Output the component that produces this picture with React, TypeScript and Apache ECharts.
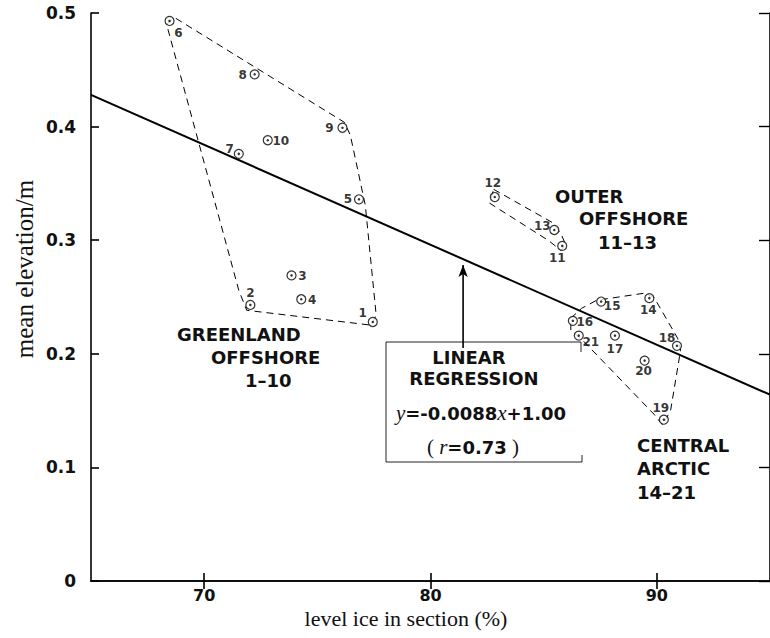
import React, { useEffect, useRef } from "react";
import * as echarts from "echarts";

// Survey stations: level ice fraction (%) vs mean ice elevation (m)
const stationIds = [1, 2, 3, 4, 5, 6, 7, 8, 9, 10, 11, 12, 13, 14, 15, 16, 17, 18, 19, 20, 21];
const levelIce = [77.45, 72.04, 73.86, 74.29, 76.84, 68.47, 71.53, 72.23, 76.11, 72.81, 85.82, 82.84, 85.47, 89.67, 87.54, 86.29, 88.15, 90.89, 90.31, 89.46, 86.55];
const meanElevation = [0.228, 0.243, 0.269, 0.248, 0.336, 0.493, 0.376, 0.446, 0.399, 0.388, 0.295, 0.338, 0.309, 0.249, 0.246, 0.229, 0.216, 0.207, 0.142, 0.194, 0.216];

// Where each station number sits relative to its marker (px)
const labelOffsets: [number, number][] = [
  [-10, -9], [0, -12], [11, 1], [11, 1], [-11, 0], [9, 12], [-9, -5], [-12, 1], [-13, 0], [13, 1],
  [-5, 12], [-2, -14], [-12, -4], [-1, 12], [11, 4], [12, 1], [0, 13], [-10, -8], [-3, -12], [-1, 10], [12, 6],
];

// Dashed outlines around the three regional groups (data units)
const greenlandOutline: [number, number][] = [
  [68.34, 0.49], [68.69, 0.496], [76.2, 0.4037], [76.46, 0.3923], [77.12, 0.3307], [77.6, 0.234],
  [77.38, 0.2252], [71.88, 0.2383], [71.53, 0.2559], [68.34, 0.49],
];
const outerOffshoreOutline: [number, number][] = [
  [82.79, 0.3448], [85.37, 0.3157], [85.76, 0.3061], [85.98, 0.2955], [85.76, 0.2911], [85.2, 0.2999],
  [82.62, 0.3325], [82.79, 0.3448],
];
const centralArcticOutline: [number, number][] = [
  [86.2, 0.2313], [86.68, 0.2401], [87.34, 0.2471], [89.43, 0.2533], [89.87, 0.2498], [90.92, 0.2137],
  [91.05, 0.2032], [90.61, 0.1504], [90.26, 0.1372], [89.87, 0.1469], [86.72, 0.212], [86.2, 0.2208],
  [86.2, 0.2313],
];

// Fitted regression y = -0.0088x + 1.00
const SLOPE = -0.0088;
const INTERCEPT = 1.0;
const X_RANGE = [65, 95];
const xTicks = [70, 80, 90];
const arrowX = 81.44;

const SANS = "DejaVu Sans";
const SERIF = "Liberation Serif";

export default function App() {
  const ref = useRef<HTMLDivElement>(null);

  useEffect(() => {
    if (!ref.current) return;
    const chart = echarts.init(ref.current, null, { renderer: "svg" });

    const points = stationIds.map((id, i) => ({
      value: [levelIce[i], meanElevation[i]],
      name: String(id),
      label: { offset: labelOffsets[i] },
    }));

    const fit = (x: number) => SLOPE * x + INTERCEPT;

    const dashed = (data: [number, number][]) => ({
      type: "line",
      data,
      symbol: "none",
      silent: true,
      lineStyle: { color: "#000", width: 1, type: [7, 5] },
      z: 2,
    });

    const boxLine = (x1: number, y1: number, x2: number, y2: number) => ({
      type: "line",
      shape: { x1, y1, x2, y2 },
      style: { stroke: "#222", lineWidth: 1 },
    });

    const boldText = (x: number, y: number, text: string, size: number, align = "left") => ({
      type: "text",
      x,
      y,
      style: {
        text,
        fill: "#111",
        font: `bold ${size}px "${SANS}"`,
        textAlign: align,
        textVerticalAlign: "middle",
      },
    });

    chart.setOption({
      animation: false,
      backgroundColor: "#fff",
      grid: { left: 91, top: 13, width: 687, height: 568 },
      xAxis: [
        {
          type: "value",
          min: X_RANGE[0],
          max: X_RANGE[1],
          axisLine: { lineStyle: { color: "#000", width: 1.6 } },
          axisTick: { inside: true, length: 8, customValues: xTicks, lineStyle: { color: "#000", width: 1.6 } },
          axisLabel: {
            customValues: xTicks,
            margin: 6,
            color: "#111",
            fontFamily: SANS,
            fontWeight: "bold",
            fontSize: 16,
            lineHeight: 16,
          },
          splitLine: { show: false },
        },
        {
          type: "value",
          position: "top",
          min: X_RANGE[0],
          max: X_RANGE[1],
          axisLine: { lineStyle: { color: "#000", width: 1.6 } },
          axisTick: { inside: true, length: 8, customValues: xTicks, lineStyle: { color: "#000", width: 1.6 } },
          axisLabel: { show: false },
          splitLine: { show: false },
        },
      ],
      yAxis: [
        {
          type: "value",
          min: 0,
          max: 0.5,
          interval: 0.1,
          axisLine: { lineStyle: { color: "#000", width: 1.6 } },
          axisTick: { inside: true, length: 8, lineStyle: { color: "#000", width: 1.6 } },
          axisLabel: {
            margin: 15,
            color: "#111",
            fontFamily: SANS,
            fontWeight: "bold",
            fontSize: 17,
            formatter: (v: number) => (v === 0 ? "0" : v.toFixed(1)),
          },
          splitLine: { show: false },
        },
        {
          type: "value",
          position: "right",
          min: 0,
          max: 0.5,
          interval: 0.1,
          axisLine: { lineStyle: { color: "#000", width: 1.6 } },
          axisTick: { inside: true, length: 11, lineStyle: { color: "#000", width: 1.4 } },
          axisLabel: { show: false },
          splitLine: { show: false },
        },
      ],
      series: [
        dashed(greenlandOutline),
        dashed(outerOffshoreOutline),
        dashed(centralArcticOutline),
        {
          type: "line",
          data: [
            [X_RANGE[0], fit(X_RANGE[0])],
            [X_RANGE[1], fit(X_RANGE[1])],
          ],
          symbol: "none",
          silent: true,
          lineStyle: { color: "#000", width: 2 },
          z: 3,
        },
        {
          type: "line",
          data: [
            { value: [arrowX, 0.205], symbol: "none" },
            { value: [arrowX, fit(arrowX) - 0.0052], symbol: "arrow", symbolSize: [7, 12] },
          ],
          silent: true,
          itemStyle: { color: "#000" },
          lineStyle: { color: "#000", width: 1.6 },
          z: 3,
        },
        {
          type: "scatter",
          data: points,
          symbol: "circle",
          symbolSize: 9,
          itemStyle: { color: "#fff", borderColor: "#000", borderWidth: 1.2 },
          label: {
            show: true,
            position: "inside",
            formatter: "{b}",
            color: "#000",
            textBorderWidth: 0,
            fontFamily: SANS,
            fontWeight: "bold",
            fontSize: 12,
            align: "center",
            verticalAlign: "middle",
          },
          z: 4,
        },
        {
          type: "scatter",
          data: stationIds.map((_, i) => [levelIce[i], meanElevation[i]]),
          symbol: "circle",
          symbolSize: 2.5,
          itemStyle: { color: "#000" },
          silent: true,
          z: 5,
        },
      ],
      graphic: [
        // axis titles
        {
          type: "text",
          x: 406,
          y: 618,
          style: {
            text: "level ice in section (%)",
            fill: "#111",
            font: `22px "${SERIF}"`,
            textAlign: "center",
            textVerticalAlign: "middle",
          },
        },
        {
          type: "text",
          x: 24,
          y: 269,
          rotation: Math.PI / 2,
          style: {
            text: "mean elevation/m",
            fill: "#111",
            font: `25px "${SERIF}"`,
            textAlign: "center",
            textVerticalAlign: "middle",
          },
        },
        // regression legend box
        boxLine(386, 342, 581, 342),
        boxLine(386, 342, 386, 462),
        boxLine(386, 462, 582, 462),
        boxLine(581, 342, 581, 352),
        boxLine(582, 455, 582, 462),
        boldText(469, 357, "LINEAR", 18, "center"),
        boldText(474, 378, "REGRESSION", 18, "center"),
        {
          type: "text",
          x: 481,
          y: 413,
          style: {
            text: "{i|y}{b|=-0.0088}{i|x}{b|+1.00}",
            textAlign: "center",
            textVerticalAlign: "middle",
            rich: {
              i: { font: `italic 21px "${SERIF}"`, fill: "#111" },
              b: { font: `bold 18px "${SANS}"`, fill: "#111" },
            },
          },
        },
        {
          type: "text",
          x: 473,
          y: 447,
          style: {
            text: "{p|( }{i|r}{b|=0.73}{p| )}",
            textAlign: "center",
            textVerticalAlign: "middle",
            rich: {
              p: { font: `21px "${SERIF}"`, fill: "#111" },
              i: { font: `italic 21px "${SERIF}"`, fill: "#111" },
              b: { font: `bold 18px "${SANS}"`, fill: "#111" },
            },
          },
        },
        // group names
        boldText(177, 334, "GREENLAND", 18),
        boldText(211, 357, "OFFSHORE", 18),
        boldText(245, 380, "1–10", 18),
        boldText(555, 196, "OUTER", 18),
        boldText(579, 218, "OFFSHORE", 18),
        boldText(598, 242, "11–13", 18),
        boldText(637, 445, "CENTRAL", 18),
        boldText(637, 468, "ARCTIC", 18),
        boldText(637, 492, "14–21", 18),
      ],
    });

    return () => chart.dispose();
  }, []);

  return (
    <div
      ref={ref}
      style={{ position: "fixed", left: 0, top: 0, width: 770, height: 638, background: "#fff" }}
    />
  );
}
